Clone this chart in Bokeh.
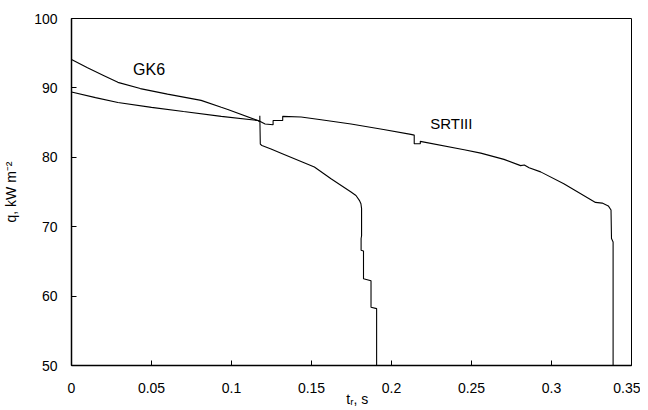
from bokeh.plotting import figure
from bokeh.models import Label, FixedTicker, NumeralTickFormatter, Range1d
from bokeh.embed import file_html
from bokeh.resources import INLINE

# Data
gk6_t = [0, 0.010, 0.020, 0.029, 0.043, 0.060, 0.081, 0.0936, 0.0977, 0.1165, 0.1177, 0.1177,
         0.1180, 0.1190, 0.1247, 0.131, 0.1518, 0.1622, 0.1747, 0.1778, 0.1799, 0.1809, 0.1813,
         0.1813, 0.1810, 0.1810, 0.1825, 0.1825, 0.1872, 0.1872, 0.1907, 0.1907]
gk6_q = [94.1, 92.9, 91.8, 90.8, 89.9, 89.1, 88.2, 87.2, 86.9, 85.3, 85.1, 86.0,
         81.9, 81.7, 81.2, 80.6, 78.6, 76.9, 75.0, 74.5, 73.8, 73.3, 72.6,
         68.7, 68.3, 66.6, 66.5, 62.5, 62.2, 58.4, 58.2, 50.0]

srt_t = [0, 0.015, 0.029, 0.050, 0.070, 0.0936, 0.1165, 0.1177, 0.1210, 0.1260, 0.1260,
         0.1320, 0.1320, 0.1435, 0.156, 0.1747, 0.195, 0.2121, 0.2142, 0.2142, 0.218, 0.218,
         0.2454, 0.2558, 0.2703, 0.2807, 0.2830, 0.2860, 0.2932, 0.3077, 0.3275, 0.3317,
         0.3355, 0.3372, 0.3375, 0.3385, 0.3385]
srt_q = [89.4, 88.6, 87.9, 87.2, 86.6, 85.9, 85.3, 85.2, 84.8, 84.7, 85.3,
         85.3, 85.9, 85.8, 85.4, 84.8, 84.0, 83.3, 83.2, 81.95, 81.95, 82.3,
         81.1, 80.6, 79.7, 78.8, 78.9, 78.5, 77.9, 76.2, 73.5, 73.4,
         73.0, 72.4, 68.3, 67.8, 50.0]

x_ticks = [0, 0.05, 0.1, 0.15, 0.2, 0.25, 0.3, 0.35]
y_ticks = [50, 60, 70, 80, 90, 100]

FONT = "Liberation Sans"

p = figure(width=640, height=410, output_backend="svg", toolbar_location=None,
           x_range=Range1d(0, 0.35), y_range=Range1d(50, 100),
           min_border_left=70, min_border_right=9, min_border_top=18, min_border_bottom=45,
           x_axis_label="\u00a0\u00a0\u00a0t\u1d63, s", y_axis_label="q, kW m\u207b\u00b2")
p.background_fill_color = "white"
p.border_fill_color = "white"
p.outline_line_color = "black"
p.outline_line_width = 1
p.grid.visible = False

for ax in (p.xaxis[0], p.yaxis[0]):
    ax.axis_line_color = "black"
    ax.axis_line_width = 1.5
    ax.major_tick_in = 5
    ax.major_tick_out = 0
    ax.minor_tick_line_color = None
    ax.major_tick_line_color = "black"
    ax.major_label_text_font = FONT
    ax.major_label_text_font_size = "14px"
    ax.major_label_text_color = "black"
    ax.axis_label_text_font = FONT
    ax.axis_label_text_font_size = "14px"
    ax.axis_label_text_font_style = "normal"
    ax.axis_label_text_color = "black"

p.xaxis[0].ticker = FixedTicker(ticks=x_ticks)
p.xaxis[0].formatter = NumeralTickFormatter(format="0.[00]")
p.xaxis[0].major_label_standoff = 17
p.xaxis[0].axis_label_standoff = -5
p.yaxis[0].ticker = FixedTicker(ticks=y_ticks)
p.yaxis[0].major_label_standoff = 14
p.yaxis[0].axis_label_standoff = 12

p.line(gk6_t, gk6_q, line_color="black", line_width=1.1)
p.line(srt_t, srt_q, line_color="black", line_width=1.1)

p.add_layout(Label(x=0.0385, y=92.65, text="GK6", text_font=FONT, text_font_size="16px",
                   text_baseline="middle", text_align="left", text_color="black"))
p.add_layout(Label(x=0.2242, y=84.94, text="SRTIII", text_font=FONT, text_font_size="15px",
                   text_baseline="middle", text_align="left", text_color="black"))

open("out.html", "w").write(file_html(p, INLINE))
